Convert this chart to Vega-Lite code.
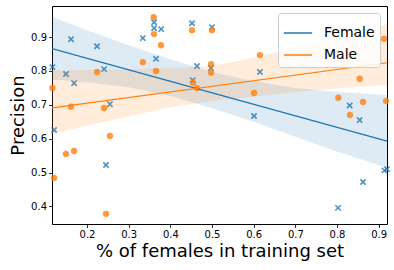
{
  "$schema": "https://vega.github.io/schema/vega-lite/v6.json",
  "width": 335,
  "height": 218,
  "autosize": {"type": "none"},
  "padding": {"left": 52, "top": 6, "right": 7, "bottom": 46},
  "datasets": {
    "points": [
      {"gender": "Female", "x": 0.117, "y": 0.8115},
      {"gender": "Female", "x": 0.1616, "y": 0.894},
      {"gender": "Female", "x": 0.1496, "y": 0.791},
      {"gender": "Female", "x": 0.169, "y": 0.764},
      {"gender": "Female", "x": 0.224, "y": 0.873},
      {"gender": "Female", "x": 0.241, "y": 0.8056},
      {"gender": "Female", "x": 0.255, "y": 0.702},
      {"gender": "Female", "x": 0.334, "y": 0.897},
      {"gender": "Female", "x": 0.361, "y": 0.944},
      {"gender": "Female", "x": 0.361, "y": 0.9265},
      {"gender": "Female", "x": 0.378, "y": 0.9236},
      {"gender": "Female", "x": 0.3656, "y": 0.836},
      {"gender": "Female", "x": 0.452, "y": 0.941},
      {"gender": "Female", "x": 0.5, "y": 0.9295},
      {"gender": "Female", "x": 0.464, "y": 0.8145},
      {"gender": "Female", "x": 0.4976, "y": 0.8086},
      {"gender": "Female", "x": 0.4537, "y": 0.773},
      {"gender": "Female", "x": 0.615, "y": 0.797},
      {"gender": "Female", "x": 0.6008, "y": 0.667},
      {"gender": "Female", "x": 0.8304, "y": 0.698},
      {"gender": "Female", "x": 0.8544, "y": 0.655},
      {"gender": "Female", "x": 0.9137, "y": 0.5065},
      {"gender": "Female", "x": 0.92, "y": 0.51},
      {"gender": "Female", "x": 0.8624, "y": 0.472},
      {"gender": "Female", "x": 0.8024, "y": 0.3956},
      {"gender": "Female", "x": 0.121, "y": 0.6257},
      {"gender": "Female", "x": 0.2456, "y": 0.5224},
      {"gender": "Male", "x": 0.36, "y": 0.959},
      {"gender": "Male", "x": 0.3608, "y": 0.909},
      {"gender": "Male", "x": 0.3776, "y": 0.876},
      {"gender": "Male", "x": 0.334, "y": 0.826},
      {"gender": "Male", "x": 0.3656, "y": 0.8},
      {"gender": "Male", "x": 0.224, "y": 0.797},
      {"gender": "Male", "x": 0.117, "y": 0.75},
      {"gender": "Male", "x": 0.1616, "y": 0.6944},
      {"gender": "Male", "x": 0.2408, "y": 0.6906},
      {"gender": "Male", "x": 0.452, "y": 0.9206},
      {"gender": "Male", "x": 0.5, "y": 0.9206},
      {"gender": "Male", "x": 0.615, "y": 0.847},
      {"gender": "Male", "x": 0.4976, "y": 0.82},
      {"gender": "Male", "x": 0.4976, "y": 0.7947},
      {"gender": "Male", "x": 0.4544, "y": 0.765},
      {"gender": "Male", "x": 0.464, "y": 0.7496},
      {"gender": "Male", "x": 0.6008, "y": 0.735},
      {"gender": "Male", "x": 0.9128, "y": 0.895},
      {"gender": "Male", "x": 0.8544, "y": 0.777},
      {"gender": "Male", "x": 0.8032, "y": 0.721},
      {"gender": "Male", "x": 0.8624, "y": 0.7083},
      {"gender": "Male", "x": 0.9176, "y": 0.711},
      {"gender": "Male", "x": 0.8312, "y": 0.67},
      {"gender": "Male", "x": 0.255, "y": 0.608},
      {"gender": "Male", "x": 0.1496, "y": 0.555},
      {"gender": "Male", "x": 0.169, "y": 0.5637},
      {"gender": "Male", "x": 0.121, "y": 0.484},
      {"gender": "Male", "x": 0.2456, "y": 0.378}
    ],
    "bands": [
      {"gender": "Female", "x": 0.116, "lo": 0.775, "hi": 0.96},
      {"gender": "Female", "x": 0.2, "lo": 0.767, "hi": 0.92},
      {"gender": "Female", "x": 0.3, "lo": 0.752, "hi": 0.876},
      {"gender": "Female", "x": 0.4, "lo": 0.726, "hi": 0.835},
      {"gender": "Female", "x": 0.5, "lo": 0.69, "hi": 0.797},
      {"gender": "Female", "x": 0.6, "lo": 0.65, "hi": 0.77},
      {"gender": "Female", "x": 0.7, "lo": 0.606, "hi": 0.75},
      {"gender": "Female", "x": 0.8, "lo": 0.562, "hi": 0.738},
      {"gender": "Female", "x": 0.92, "lo": 0.514, "hi": 0.729},
      {"gender": "Male", "x": 0.116, "lo": 0.614, "hi": 0.802},
      {"gender": "Male", "x": 0.2, "lo": 0.638, "hi": 0.803},
      {"gender": "Male", "x": 0.3, "lo": 0.666, "hi": 0.805},
      {"gender": "Male", "x": 0.4, "lo": 0.693, "hi": 0.809},
      {"gender": "Male", "x": 0.5, "lo": 0.711, "hi": 0.815},
      {"gender": "Male", "x": 0.6, "lo": 0.725, "hi": 0.84},
      {"gender": "Male", "x": 0.7, "lo": 0.737, "hi": 0.869},
      {"gender": "Male", "x": 0.8, "lo": 0.748, "hi": 0.9},
      {"gender": "Male", "x": 0.92, "lo": 0.759, "hi": 0.938}
    ]
  },
  "encoding": {
    "x": {
      "field": "x", "type": "quantitative",
      "scale": {"domain": [0.116, 0.92], "nice": false, "zero": false},
      "axis": {"title": "% of females in training set", "values": [0.2, 0.3, 0.4, 0.5, 0.6, 0.7, 0.8, 0.9], "format": ".1f", "titlePadding": 3}
    }
  },
  "layer": [
    {
      "data": {"name": "points"},
      "transform": [{"filter": "datum.gender === 'Female'"}],
      "mark": {"type": "point", "shape": "M-1,-1L1,1M-1,1L1,-1", "filled": false, "stroke": "#1f77b4", "strokeWidth": 1.6, "size": 28, "opacity": 0.8},
      "encoding": {
        "y": {
          "field": "y", "type": "quantitative",
          "scale": {"domain": [0.348, 0.992], "nice": false, "zero": false},
          "axis": {"title": "Precision", "values": [0.4, 0.5, 0.6, 0.7, 0.8, 0.9], "format": ".1f", "titlePadding": 3}
        }
      }
    },
    {
      "data": {"name": "bands"},
      "transform": [{"filter": "datum.gender === 'Female'"}],
      "mark": {"type": "area", "color": "#1f77b4", "opacity": 0.15},
      "encoding": {
        "y": {"field": "lo", "type": "quantitative"},
        "y2": {"field": "hi"}
      }
    },
    {
      "data": {"name": "points"},
      "transform": [{"filter": "datum.gender === 'Male'"}],
      "mark": {"type": "circle", "color": "#ff7f0e", "size": 40, "opacity": 0.8},
      "encoding": {
        "y": {"field": "y", "type": "quantitative"}
      }
    },
    {
      "data": {"name": "bands"},
      "transform": [{"filter": "datum.gender === 'Male'"}],
      "mark": {"type": "area", "color": "#ff7f0e", "opacity": 0.15},
      "encoding": {
        "y": {"field": "lo", "type": "quantitative"},
        "y2": {"field": "hi"}
      }
    },
    {
      "data": {"name": "points"},
      "transform": [{"regression": "y", "on": "x", "groupby": ["gender"], "extent": [0.116, 0.92]}],
      "mark": {"type": "line", "strokeWidth": 1.2},
      "encoding": {
        "y": {"field": "y", "type": "quantitative"},
        "color": {
          "field": "gender", "type": "nominal",
          "scale": {"domain": ["Female", "Male"], "range": ["#1f77b4", "#ff7f0e"]},
          "legend": {
            "title": null, "orient": "top-right", "offset": 7,
            "symbolType": "stroke", "symbolSize": 800, "symbolStrokeWidth": 1.5,
            "labelFontSize": 14, "labelFont": "DejaVu Sans", "labelColor": "#000",
            "labelOffset": 11, "rowPadding": -8, "padding": 5,
            "fillColor": "rgba(255,255,255,0.8)", "strokeColor": "#cccccc", "cornerRadius": 3
          }
        }
      }
    }
  ],
  "config": {
    "font": "DejaVu Sans",
    "view": {"stroke": "#000", "strokeWidth": 1},
    "axis": {
      "grid": false, "domain": false,
      "tickColor": "#000", "tickSize": 3.5, "tickWidth": 0.8,
      "labelFont": "DejaVu Sans", "labelFontSize": 10, "labelColor": "#000", "labelPadding": 2,
      "titleFont": "DejaVu Sans", "titleFontSize": 18, "titleFontWeight": "normal", "titleColor": "#000"
    }
  }
}
